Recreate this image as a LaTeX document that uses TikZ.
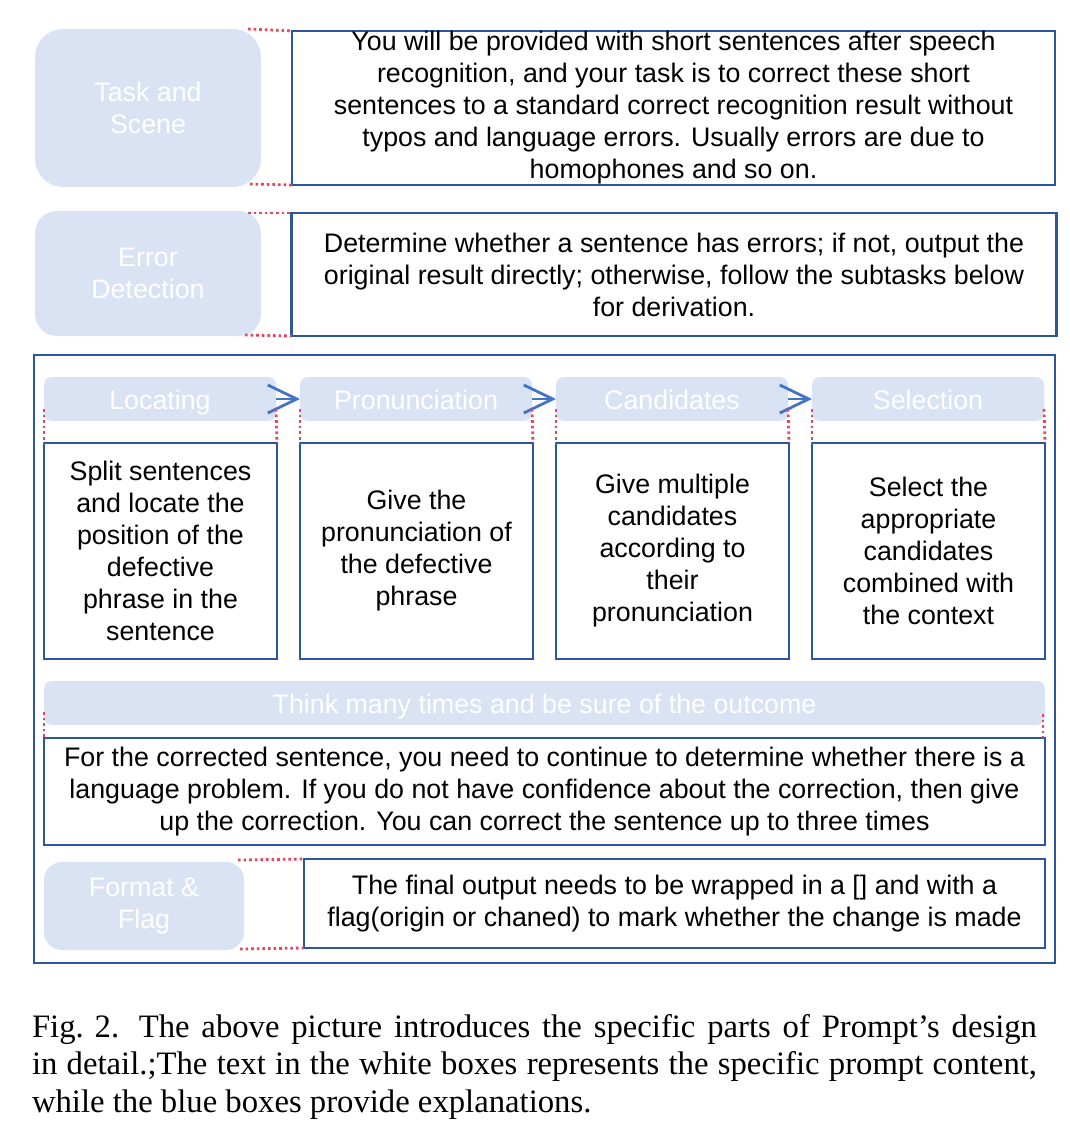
\documentclass[tikz,border=0pt]{standalone}
\usepackage{fontspec}
\setmainfont{Liberation Sans}
\newfontfamily\capfont{Liberation Serif}
\usetikzlibrary{arrows.meta,calc}
\definecolor{lblue}{HTML}{DAE3F3}
\definecolor{dblue}{HTML}{2F55A0}
\definecolor{ablue}{HTML}{4472C4}
\definecolor{rdot}{HTML}{E8455A}
\begin{document}
\begin{tikzpicture}[x=1pt,y=-1pt,
  every node/.style={inner sep=0pt, outer sep=0pt, font=\fontsize{26.8}{32}\selectfont},
  lbl/.style={fill=lblue, rounded corners=#1, text=white, align=center},
  lbl/.default=8pt,
  head/.style={lbl=8pt, minimum height=44pt, text height=21pt, text depth=1pt},
  tbox/.style={draw=dblue, line width=2.8pt, fill=white, align=center, text=black},
  frame/.style={draw=dblue, line width=2.8pt},
  reddot/.style={draw=rdot, line width=2.8pt, dash pattern=on 2.6pt off 3pt},
  flow/.style={draw=ablue, line width=2.8pt, -{Straight Barb[length=29pt,width=28pt]}}
]
\useasboundingbox (0,0) rectangle (1069,1137);

% outer frame
\node[frame, minimum width=1021pt, minimum height=608pt] (outer) at (544.5,659) {};

% top part
\node[lbl=28pt, minimum width=226pt, minimum height=158pt] (ts) at (148,108) {Task and\\Scene};
\node[tbox, minimum width=763pt, minimum height=154pt] (t1) at (673.5,108)
  {You will be provided with short sentences after speech\\
   recognition, and your task is to correct these short\\
   sentences to a standard correct recognition result without\\
   typos and language errors. Usually errors are due to\\
   homophones and so on.};
\draw[reddot] ($(ts.north east)+(-13,0)$) -- (t1.north west);
\draw[reddot] ($(ts.south east)+(-11,-3)$) -- (t1.south west);

\node[lbl=22pt, minimum width=226pt, minimum height=125pt] (ed) at (148,273.5) {Error\\Detection};
\node[tbox, minimum width=765pt, minimum height=123pt] (t2) at (674,274.5)
  {Determine whether a sentence has errors; if not, output the\\
   original result directly; otherwise, follow the subtasks below\\
   for derivation.};
\draw[reddot] ($(ed.north east)+(-13,2)$) -- (t2.north west);
\draw[reddot] ($(ed.south east)+(-16,-1)$) -- (t2.south west);

% subtask headers
\node[head, minimum width=232pt] (h1) at (160,399) {Locating};
\node[head, minimum width=232pt] (h2) at (416,399) {Pronunciation};
\node[head, minimum width=232pt] (h3) at (672,399) {Candidates};
\node[head, minimum width=232pt] (h4) at (928,399) {Selection};

\draw[flow] (h1.east) -- (h2.west);
\draw[flow] (h2.east) -- (h3.west);
\draw[flow] (h3.east) -- (h4.west);

% subtask boxes
\node[tbox, minimum width=233pt, minimum height=216pt] (b1) at (160.5,551)
  {Split sentences\\and locate the\\position of the\\defective\\phrase in the\\sentence};
\node[tbox, minimum width=233pt, minimum height=216pt] (b2) at (416.5,551)
  {Give the\\pronunciation of\\the defective\\phrase};
\node[tbox, minimum width=233pt, minimum height=216pt] (b3) at (672.5,551)
  {Give multiple\\candidates\\according to\\their\\pronunciation};
\node[tbox, minimum width=233pt, minimum height=216pt] (b4) at (928.5,551)
  {Select the\\appropriate\\candidates\\combined with\\the context};

\draw[reddot] ($(h1.west)+(0,10)$) -- (b1.north west);
\draw[reddot] ($(h1.east)+(0,10)$) -- (b1.north east);
\draw[reddot] ($(h2.west)+(0,10)$) -- (b2.north west);
\draw[reddot] ($(h2.east)+(0,10)$) -- (b2.north east);
\draw[reddot] ($(h3.west)+(0,10)$) -- (b3.north west);
\draw[reddot] ($(h3.east)+(0,10)$) -- (b3.north east);
\draw[reddot] ($(h4.west)+(0,10)$) -- (b4.north west);
\draw[reddot] ($(h4.east)+(0,10)$) -- (b4.north east);

% think many times
\node[head, minimum width=1001pt] (th) at (544.5,703) {Think many times and be sure of the outcome};
\node[tbox, minimum width=1001pt, minimum height=107pt] (t3) at (544.5,791.5)
  {For the corrected sentence, you need to continue to determine whether there is a\\
   language problem. If you do not have confidence about the correction, then give\\
   up the correction. You can correct the sentence up to three times};
\draw[reddot] ($(th.west)+(0,9)$) -- (t3.north west);
\draw[reddot] ($(th.east)+(-2,11)$) -- ($(t3.north east)+(-2,0)$);

% format & flag
\node[lbl=18pt, minimum width=200pt, minimum height=88pt] (ff) at (144,906) {Format \&\\Flag};
\node[tbox, minimum width=741pt, minimum height=89pt] (t4) at (674.5,903.5)
  {The final output needs to be wrapped in a [] and with a\\
   flag(origin or chaned) to mark whether the change is made};
\draw[reddot] ($(ff.north east)+(-6,-2)$) -- (t4.north west);
\draw[reddot] ($(ff.south east)+(-4,-1)$) -- (t4.south west);

% caption
\node[anchor=north west, align=left, font=\capfont\fontsize{32.7}{37.5}\selectfont] (cap) at (32,1014)
  {\makebox[1005pt][s]{\mbox{Fig. 2.}\hspace{0.6em}The above picture introduces the specific parts of Prompt’s design}\\
   \makebox[1005pt][s]{in detail.;The text in the white boxes represents the specific prompt content,}\\
   while the blue boxes provide explanations.};
\end{tikzpicture}
\end{document}
